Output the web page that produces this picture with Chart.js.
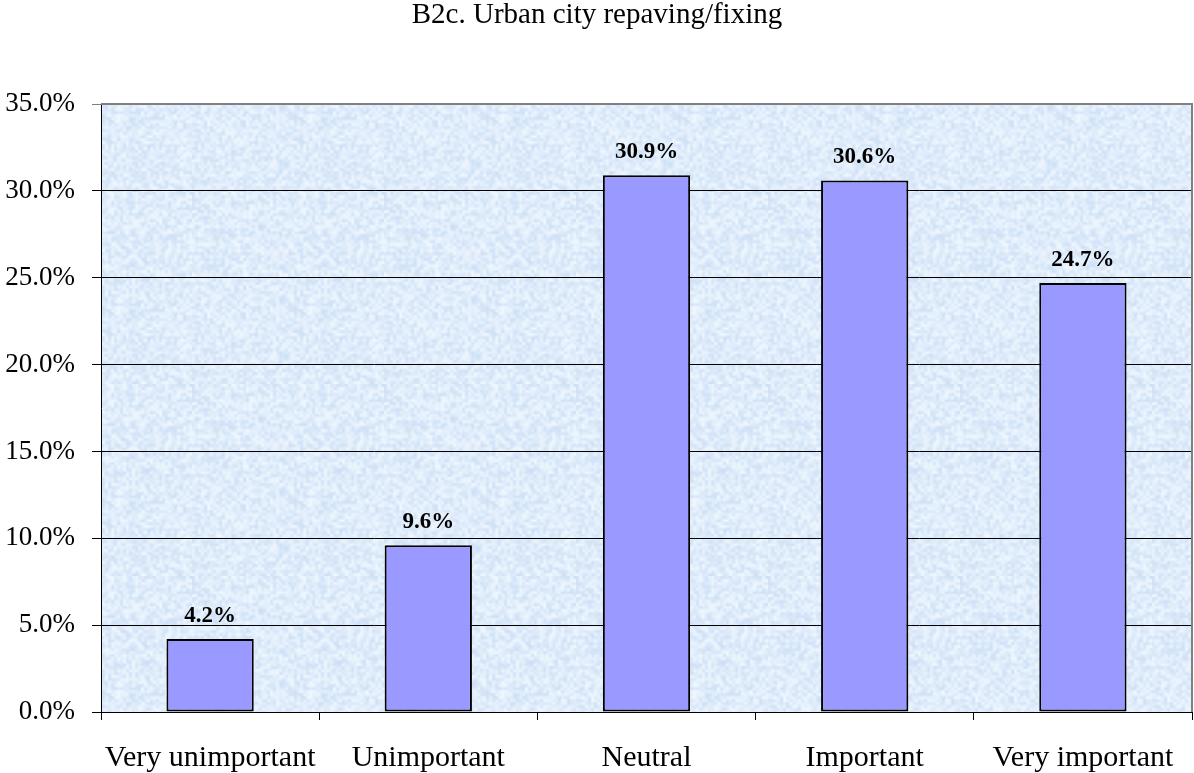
<!DOCTYPE html>
<html>
<head>
<meta charset="utf-8">
<script src="https://cdn.jsdelivr.net/npm/chart.js@4"></script>
<style>
  html, body { margin: 0; padding: 0; background: #fff; }
  #wrap { width: 1194px; height: 773px; }
</style>
</head>
<body>
<div id="wrap"><canvas id="chart" width="1194" height="773"></canvas></div>
<script>
const title = 'B2c. Urban city repaving/fixing';
const categories = ['Very unimportant', 'Unimportant', 'Neutral', 'Important', 'Very important'];
const values = [4.2, 9.6, 30.9, 30.6, 24.7];
const yTicks = [0, 5, 10, 15, 20, 25, 30, 35];

const serif = '"Liberation Serif", "Times New Roman", serif';

// soft mottled fill for the plot area (decoration only)
function makeTexture() {
  const n = 64;
  const small = document.createElement('canvas');
  small.width = n; small.height = n;
  const sg = small.getContext('2d');
  const img = sg.createImageData(n, n);
  for (let y = 0; y < n; y++) {
    for (let x = 0; x < n; x++) {
      const h = Math.sin(x * 12.9898 + y * 78.233) * 43758.5453;
      const t = h - Math.floor(h);
      const k = (y * n + x) * 4;
      img.data[k] = 206 + t * 34;
      img.data[k + 1] = 224 + t * 24;
      img.data[k + 2] = 246 + t * 9;
      img.data[k + 3] = 255;
    }
  }
  sg.putImageData(img, 0, 0);
  const c = document.createElement('canvas');
  c.width = n * 3; c.height = n * 3;
  const g = c.getContext('2d');
  g.imageSmoothingEnabled = true;
  g.drawImage(small, 0, 0, n * 3, n * 3);
  return c;
}

const decorPlugin = {
  id: 'decor',
  beforeDraw(chart) {
    const { ctx, chartArea: a } = chart;
    ctx.save();
    ctx.fillStyle = ctx.createPattern(makeTexture(), 'repeat');
    ctx.fillRect(a.left, a.top, a.right - a.left, a.bottom - a.top);
    ctx.restore();
  },
  afterDraw(chart) {
    const { ctx, chartArea: a } = chart;
    ctx.save();
    ctx.strokeStyle = '#808080';
    ctx.lineWidth = 2;
    ctx.beginPath();
    ctx.moveTo(a.left, a.top);
    ctx.lineTo(a.right, a.top);
    ctx.lineTo(a.right, a.bottom);
    ctx.stroke();

    ctx.fillStyle = '#000';
    ctx.font = '29px ' + serif;
    ctx.textAlign = 'center';
    ctx.textBaseline = 'alphabetic';
    ctx.fillText(title, chart.width / 2, 23);

    ctx.font = 'bold 23px ' + serif;
    const meta = chart.getDatasetMeta(0);
    meta.data.forEach((bar, i) => {
      ctx.fillText(values[i].toFixed(1) + '%', bar.x, bar.y - 17);
    });
    ctx.restore();
  }
};

new Chart(document.getElementById('chart'), {
  type: 'bar',
  data: {
    labels: categories,
    datasets: [{
      data: values,
      backgroundColor: '#9999ff',
      borderColor: '#000',
      borderWidth: 2,
      borderSkipped: false,
      categoryPercentage: 1,
      barPercentage: 0.4
    }]
  },
  options: {
    responsive: false,
    animation: false,
    layout: { padding: { top: 104, right: 2, left: 0, bottom: 0 } },
    plugins: { legend: { display: false }, tooltip: { enabled: false } },
    scales: {
      x: {
        offset: true,
        grid: { display: true, drawOnChartArea: false, drawTicks: true, tickLength: 8, color: '#000', offset: true },
        border: { color: '#000', width: 1 },
        ticks: { color: '#000', padding: 20, maxRotation: 0, autoSkip: false, font: { family: serif, size: 30 } },
        afterFit(scale) { scale.height = 61; }
      },
      y: {
        min: 0,
        max: 35,
        afterBuildTicks(scale) { scale.ticks = yTicks.map(v => ({ value: v })); },
        grid: {
          color: ctx => ctx.tick && ctx.tick.value === 35 ? '#808080' : '#000',
          lineWidth: 1,
          tickLength: 9
        },
        border: { color: '#000', width: 1 },
        ticks: {
          color: '#000',
          padding: 17,
          font: { family: serif, size: 27 },
          callback: v => v.toFixed(1) + '%'
        },
        afterFit(scale) { scale.width = 101; }
      }
    }
  },
  plugins: [decorPlugin]
});
</script>
</body>
</html>
